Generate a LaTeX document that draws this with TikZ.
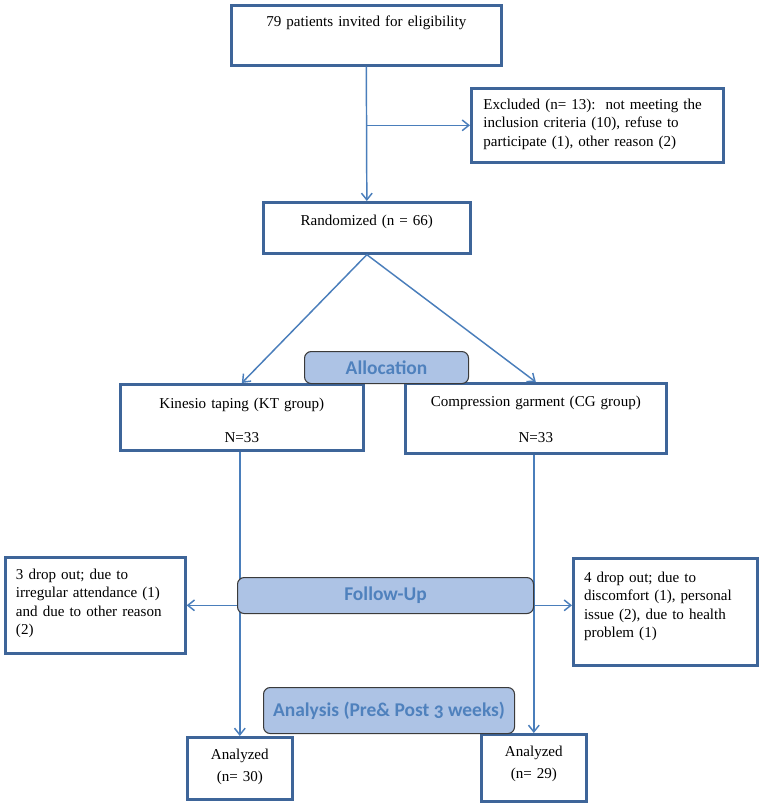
\documentclass[tikz,border=0pt]{standalone}
\usepackage{fontspec}
\setmainfont{Liberation Serif}
\newfontfamily\stagefont{Carlito}[Numbers=OldStyle]
\usetikzlibrary{arrows.meta,calc}
\definecolor{boxc}{HTML}{3E6599}
\definecolor{linec}{HTML}{4A7EBB}
\definecolor{stagefill}{HTML}{ADC3E5}
\definecolor{stagetext}{HTML}{4F81BD}
\definecolor{stageborder}{HTML}{3A3A3A}
\newcommand{\mainsz}{\fontsize{11.3pt}{13.8pt}\selectfont}
\tikzset{
  cbox/.style={draw=boxc, line width=2pt, fill=white, inner ysep=0pt, anchor=north west, font=\mainsz},
  stagebox/.style={draw=stageborder, line width=0.8pt, fill=stagefill, rounded corners=5pt,
     anchor=north west, inner sep=0pt, font=\stagefont\bfseries\fontsize{14.6pt}{16pt}\selectfont, text=stagetext},
  conn/.style={draw=linec, line width=1.1pt},
  arr/.style={conn, -{Straight Barb[length=5pt,width=8pt]}}
}
\begin{document}
\begin{tikzpicture}[x=0.75pt,y=-0.75pt]
\useasboundingbox (0,0) rectangle (760,804);
% boxes
\node[cbox, align=center, inner xsep=4pt, text width=194.5pt, text height=15.75pt, text depth=29.25pt]
  (b1) at (230,4) {79 patients invited for eligibility};
\node[cbox, align=left, inner xsep=9pt, text width=171pt, text height=15.75pt, text depth=39.75pt]
  (excl) at (470,87) {Excluded (n= 13):\ \ not meeting the\\inclusion criteria (10), refuse to\\participate (1), other reason (2)};
\node[cbox, align=center, inner xsep=4pt, text width=147.25pt, text height=17.25pt, text depth=21pt]
  (rand) at (262,201) {Randomized (n = 66)};
\node[cbox, align=center, inner xsep=4pt, text width=174.25pt, text height=18pt, text depth=31.5pt]
  (kt) at (119,383) {Kinesio taping (KT group)\\[11.5pt]N=33};
\node[cbox, align=center, inner xsep=4pt, text width=187.75pt, text height=17.25pt, text depth=35.25pt]
  (cg) at (404,382) {Compression garment (CG group)\\[13pt]N=33};
\node[cbox, align=left, inner xsep=8pt, text width=119pt, text height=16.5pt, text depth=55.5pt]
  (dl) at (4,556) {3 drop out; due to\\irregular attendance (1)\\and due to other reason\\(2)};
\node[cbox, align=left, inner xsep=8pt, text width=122pt, text height=18pt, text depth=62.25pt]
  (dr) at (572,557) {4 drop out; due to\\discomfort (1), personal\\issue (2), due to health\\problem (1)};
\node[cbox, align=center, inner xsep=4pt, text width=70.75pt, text height=16.5pt, text depth=30pt]
  (an1) at (186,736) {Analyzed\\[2.5pt](n= 30)};
\node[cbox, align=center, inner xsep=4pt, text width=70.75pt, text height=16.5pt, text depth=33.75pt]
  (an2) at (480,733) {Analyzed\\[2.5pt](n= 29)};
% connectors
\coordinate (br1) at (b1.south |- excl.west);
\draw[arr] (b1.south) -- (rand.north);
\draw[arr] (br1) -- (excl.west);
\draw[arr] (rand.south) -- (kt.north);
\draw[arr] (rand.south) -- (cg.north);
\coordinate (kts) at (kt.south -| an1.north);
\coordinate (cgs) at (cg.south -| an2.north);
\draw[arr] (kts) -- (an1.north);
\draw[arr] (cgs) -- (an2.north);
\coordinate (br2) at (an1.north |- dl.east);
\coordinate (br3) at (an2.north |- dl.east);
\draw[arr] (br2) -- (dl.east);
\draw[arr] (br3) -- (dr.west |- br3);
% stage boxes
\node[stagebox, minimum width=123pt, minimum height=24pt] (alloc) at (304,351) {Allocation};
\node[stagebox, minimum width=222pt, minimum height=27pt] (fu) at (237,577) {Follow-Up};
\node[stagebox, minimum width=188.25pt, minimum height=34.5pt] (anl) at (263,687) {Analysis (Pre\& Post 3 weeks)};
\end{tikzpicture}
\end{document}
